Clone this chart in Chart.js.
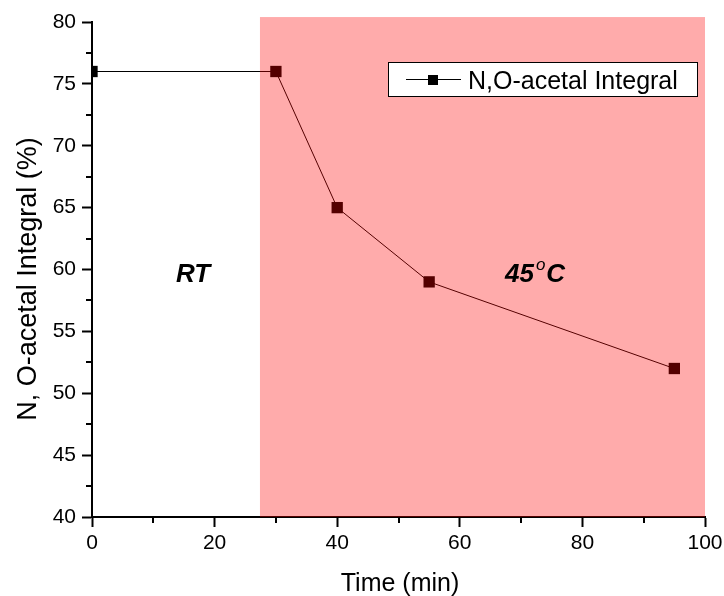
<!DOCTYPE html>
<html>
<head>
<meta charset="utf-8">
<script src="https://cdn.jsdelivr.net/npm/chart.js@4.4.1/dist/chart.umd.min.js"></script>
<style>
html,body{margin:0;padding:0;background:#fff;}
#wrap{width:724px;height:596px;position:relative;}
</style>
</head>
<body>
<div id="wrap"><canvas id="c" width="724" height="596"></canvas></div>
<script>
// Data
const timeMin = [0, 30, 40, 55, 95];
const integralPct = [76, 76, 65, 59, 52];
const seriesName = "N,O-acetal Integral";
const xTitle = "Time (min)";
const yTitle = "N, O-acetal Integral (%)";
const heatStart = 27.4;   // start of the 45 °C region (min)
const heatEnd = 100;
const xMinorTicks = [10, 30, 50, 70, 90];
const yMinorTicks = [42.5, 47.5, 52.5, 57.5, 62.5, 67.5, 72.5, 77.5];

const FONT = '"Liberation Sans", Arial, sans-serif';

const decor = {
  id: 'decor',
  afterDatasetsDraw(chart) {
    const {ctx, scales: {x, y}} = chart;
    ctx.save();
    // heated region overlay
    const x0 = x.getPixelForValue(heatStart), x1 = x.getPixelForValue(heatEnd);
    const y0 = y.getPixelForValue(80.4), y1 = y.getPixelForValue(40);
    ctx.fillStyle = 'rgba(255,0,0,0.33)';
    ctx.fillRect(x0, y0, x1 - x0, y1 - y0);
    ctx.restore();
  },
  afterDraw(chart) {
    const {ctx, scales: {x, y}} = chart;
    ctx.save();
    // minor ticks
    ctx.strokeStyle = '#000';
    ctx.lineWidth = 2;
    ctx.beginPath();
    const yAxisX = x.getPixelForValue(0);
    yMinorTicks.forEach(v => {
      const py = Math.round(y.getPixelForValue(v));
      ctx.moveTo(yAxisX - 6, py);
      ctx.lineTo(yAxisX, py);
    });
    const xAxisY = y.getPixelForValue(40);
    xMinorTicks.forEach(v => {
      const px = Math.round(x.getPixelForValue(v));
      ctx.moveTo(px, xAxisY);
      ctx.lineTo(px, xAxisY + 6);
    });
    ctx.stroke();

    // axis titles
    ctx.fillStyle = '#000';
    ctx.font = '25px ' + FONT;
    ctx.textAlign = 'center';
    ctx.textBaseline = 'alphabetic';
    ctx.fillText(xTitle, 400, 591);
    ctx.save();
    ctx.translate(36, 279);
    ctx.rotate(-Math.PI / 2);
    ctx.font = '27px ' + FONT;
    ctx.fillText(yTitle, 0, 0);
    ctx.restore();

    // region labels
    ctx.font = 'italic bold 26px ' + FONT;
    ctx.textAlign = 'center';
    ctx.fillText('RT', 193, 282);
    ctx.textAlign = 'left';
    ctx.fillText('45', 505, 282);
    const w45 = ctx.measureText('45').width;
    ctx.font = 'italic 17px ' + FONT;
    ctx.fillText('o', 505 + w45 + 2, 270);
    const wo = ctx.measureText('o').width;
    ctx.font = 'italic bold 26px ' + FONT;
    ctx.fillText('C', 505 + w45 + wo + 3, 282);

    // legend
    ctx.fillStyle = '#fff';
    ctx.fillRect(388, 62, 309, 34);
    ctx.strokeStyle = '#000';
    ctx.lineWidth = 1;
    ctx.strokeRect(388.5, 62.5, 309, 34);
    ctx.beginPath();
    ctx.moveTo(406, 79.5);
    ctx.lineTo(461, 79.5);
    ctx.stroke();
    ctx.fillStyle = '#000';
    ctx.fillRect(428, 75, 10, 10);
    ctx.font = '25px ' + FONT;
    ctx.textAlign = 'left';
    ctx.fillText(seriesName, 468, 89);
    ctx.restore();
  }
};

new Chart(document.getElementById('c'), {
  type: 'line',
  data: {
    datasets: [{
      label: seriesName,
      data: timeMin.map((t, i) => ({x: t, y: integralPct[i]})),
      borderColor: '#000',
      borderWidth: 1,
      backgroundColor: '#000',
      pointStyle: 'rect',
      pointRadius: 8,
      pointBorderWidth: 0,
      pointBackgroundColor: '#000',
      tension: 0,
      clip: {left: 0, top: false, right: false, bottom: false}
    }]
  },
  options: {
    responsive: false,
    animation: false,
    devicePixelRatio: 1,
    layout: {padding: {top: 22, right: 19, left: 0, bottom: 0}},
    plugins: {legend: {display: false}, tooltip: {enabled: false}},
    scales: {
      x: {
        type: 'linear', min: 0, max: 100,
        ticks: {stepSize: 20, color: '#000', font: {family: FONT, size: 21}, padding: 4, maxRotation: 0},
        grid: {drawOnChartArea: false, tickLength: 10, tickColor: '#000', tickWidth: 2},
        border: {color: '#000', width: 2},
        afterFit(s) { s.height = 79; s.paddingLeft = 0; s.paddingRight = 0; }
      },
      y: {
        type: 'linear', min: 40, max: 80,
        ticks: {stepSize: 5, color: '#000', font: {family: FONT, size: 21}, padding: 6},
        grid: {drawOnChartArea: false, tickLength: 10, tickColor: '#000', tickWidth: 2},
        border: {color: '#000', width: 2},
        afterFit(s) { s.width = 92; s.paddingTop = 0; s.paddingBottom = 0; }
      }
    }
  },
  plugins: [decor]
});
</script>
</body>
</html>
